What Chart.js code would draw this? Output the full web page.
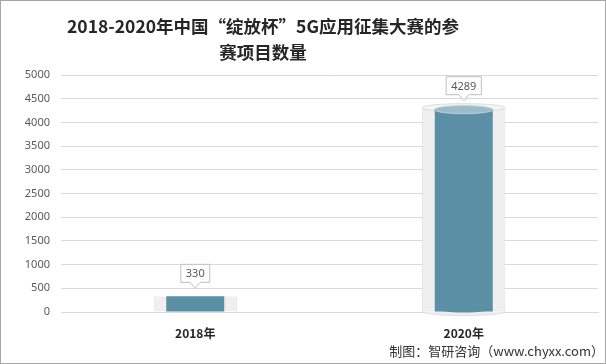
<!DOCTYPE html>
<html>
<head>
<meta charset="utf-8">
<script src="https://cdn.jsdelivr.net/npm/chart.js@4"></script>
<style>
  html, body { margin: 0; padding: 0; background: #fff; }
  #wrap { position: relative; width: 606px; height: 364px; box-sizing: border-box; border: 1px solid #a6a6a6; overflow: hidden; }
  #title { position: absolute; left: 40px; width: 444px; top: 12px; text-align: center;
    font: bold 17.5px "Noto Sans CJK SC", sans-serif; color: #262626; line-height: 26px; }
  #source { position: absolute; right: 1px; bottom: 3px; font: 13px "Noto Sans CJK SC", sans-serif; color: #333; }
  canvas { position: absolute; left: -1px; top: -1px; }
</style>
</head>
<body>
<div id="wrap">
  <canvas id="chart" width="606" height="364"></canvas>
  <div id="title">2018-2020年中国“绽放杯”5G应用征集大赛的参<br>赛项目数量</div>
  <div id="source">制图：智研咨询（www.chyxx.com）</div>
</div>
<script>
const years = ['2018年', '2020年'];
const entries = [330, 4289];
const yTicks = [0, 500, 1000, 1500, 2000, 2500, 3000, 3500, 4000, 4500, 5000];

const BLUE = '#5b8fa6';
const BLUE_TOP = '#9bbccb';
const GRAY = '#efefef';

// draws the ellipse caps so the tall bars look like cylinders
const cylinders = {
  id: 'cylinders',
  afterDatasetDraw(chart, args) {
    const ctx = chart.ctx;
    const isBlue = args.index === 0;
    args.meta.data.forEach(bar => {
      if (bar.base - bar.y < 40) return; // short bars stay flat
      const rx = bar.width / 2;
      const ry = 4;
      ctx.save();
      // bottom bulge
      ctx.beginPath();
      ctx.ellipse(bar.x, bar.base - (isBlue ? 3 : 0), rx, ry, 0, 0, Math.PI);
      ctx.fillStyle = isBlue ? BLUE : GRAY;
      ctx.fill();
      if (!isBlue) { ctx.strokeStyle = '#dedede'; ctx.stroke(); }
      // top cap
      ctx.beginPath();
      ctx.ellipse(bar.x, bar.y + (isBlue ? 1 : -1), rx, ry, 0, 0, Math.PI * 2);
      ctx.fillStyle = isBlue ? BLUE_TOP : '#f5f5f5';
      ctx.fill();
      ctx.strokeStyle = isBlue ? '#b9d0da' : '#dcdcdc';
      ctx.lineWidth = 1;
      ctx.stroke();
      ctx.restore();
    });
  },
  afterDatasetsDraw(chart) {
    // callout labels
    const ctx = chart.ctx;
    const meta = chart.getDatasetMeta(0);
    ctx.save();
    ctx.font = '11px "Noto Sans", sans-serif';
    meta.data.forEach((bar, i) => {
      const text = String(entries[i]);
      const w = ctx.measureText(text).width + 10;
      const h = 18;
      const bottom = bar.y - 14;
      const left = bar.x - w / 2;
      ctx.beginPath();
      ctx.moveTo(left, bottom - h);
      ctx.lineTo(left + w, bottom - h);
      ctx.lineTo(left + w, bottom);
      ctx.lineTo(bar.x + 5, bottom);
      ctx.lineTo(bar.x, bottom + 6);
      ctx.lineTo(bar.x - 5, bottom);
      ctx.lineTo(left, bottom);
      ctx.closePath();
      ctx.fillStyle = '#fff';
      ctx.fill();
      ctx.strokeStyle = '#bfbfbf';
      ctx.lineWidth = 1;
      ctx.stroke();
      ctx.fillStyle = '#595959';
      ctx.textAlign = 'center';
      ctx.textBaseline = 'middle';
      ctx.fillText(text, bar.x, bottom - h / 2 + 1);
    });
    ctx.restore();
  }
};

new Chart(document.getElementById('chart'), {
  type: 'bar',
  data: {
    labels: years,
    datasets: [
      {
        label: '参赛项目数量',
        data: entries,
        backgroundColor: BLUE,
        barPercentage: 0.216,
        categoryPercentage: 1,
        grouped: false
      },
      {
        label: 'bg',
        data: entries,
        backgroundColor: GRAY,
        borderColor: '#e0e0e0',
        borderWidth: { left: 1, right: 1 },
        barPercentage: 0.31,
        categoryPercentage: 1,
        grouped: false
      }
    ]
  },
  plugins: [cylinders],
  options: {
    responsive: false,
    animation: false,
    layout: { padding: { top: 75, bottom: 22, left: 0, right: 8 } },
    plugins: {
      legend: { display: false },
      tooltip: { enabled: false },
      title: { display: false }
    },
    scales: {
      x: {
        grid: { display: false },
        border: { color: '#d9d9d9' },
        ticks: {
          color: '#262626',
          padding: 6,
          font: { family: '"Noto Sans CJK SC", sans-serif', size: 12, weight: 'bold' }
        },
        afterFit: s => { s.height = 30; }
      },
      y: {
        min: 0,
        max: 5000,
        afterBuildTicks: s => { s.ticks = yTicks.map(v => ({ value: v })); },
        grid: { color: '#d9d9d9', drawTicks: false },
        border: { display: false },
        ticks: {
          color: '#595959',
          padding: 11,
          font: { family: '"Noto Sans", sans-serif', size: 11 },
          callback: v => String(v)
        },
        afterFit: s => { s.width = 61; }
      }
    }
  }
});
</script>
</body>
</html>
